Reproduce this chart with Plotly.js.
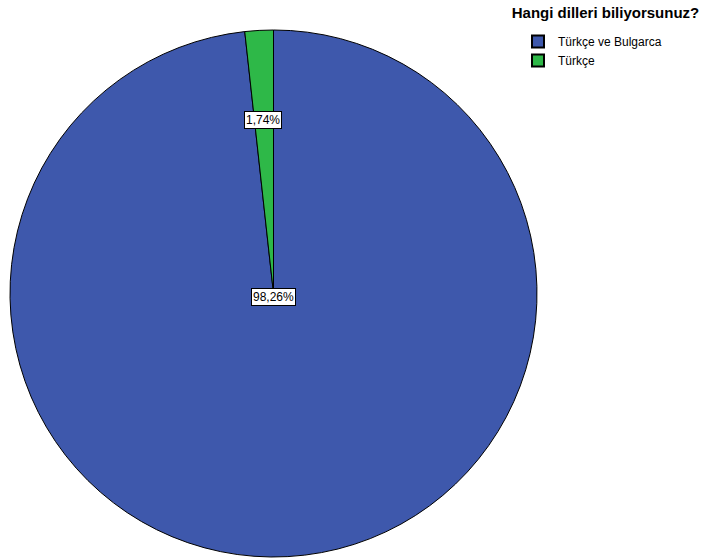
<!DOCTYPE html>
<html>
<head>
<meta charset="utf-8">
<script src="https://cdn.plot.ly/plotly-3.0.1.min.js"></script>
<style>body{margin:0;padding:0;background:#fff;} #chart{width:703px;height:558px;}</style>
</head>
<body>
<div id="chart"></div>
<script>
const categories = ["Türkçe ve Bulgarca", "Türkçe"];
const percents = [98.26, 1.74];
const colors = ["#3e58ac", "#2eb848"];
const chartTitle = "Hangi dilleri biliyorsunuz?";

const fmt = v => v.toFixed(2).replace(".", ",") + "%";

const trace = {
  type: "pie",
  labels: categories,
  values: percents,
  sort: false,
  direction: "clockwise",
  rotation: 0,
  marker: {colors: colors, line: {color: "#000", width: 1}},
  textinfo: "none",
  hoverinfo: "label+percent",
  domain: {x: [10/703, 537/703], y: [1 - 557/558, 1 - 30/558]},
  showlegend: true
};

const labelPos = [[273/703, 1 - 297/558], [263/703, 1 - 111/558]];
const annotations = percents.map((v, i) => ({
  xref: "paper", yref: "paper",
  x: labelPos[i][0], y: labelPos[i][1],
  text: fmt(v), showarrow: false,
  font: {family: "Liberation Sans, Arial, sans-serif", size: 12, color: "#000"},
  bgcolor: "#fff", bordercolor: "#000", borderwidth: 1, borderpad: 1
}));

const layout = {
  width: 703, height: 558,
  margin: {l: 0, r: 0, t: 0, b: 0},
  paper_bgcolor: "#fff", plot_bgcolor: "#fff",
  title: {
    text: "<b>" + chartTitle + "</b>",
    font: {family: "Liberation Sans, Arial, sans-serif", size: 15, color: "#000"},
    x: 605.5/703, xanchor: "center", xref: "paper",
    y: 1 - 13/558, yanchor: "middle", yref: "container"
  },
  legend: {
    x: 518/703, xanchor: "left", y: 1 - 27/558, yanchor: "top",
    font: {family: "Liberation Sans, Arial, sans-serif", size: 12, color: "#000"},
    bgcolor: "rgba(0,0,0,0)", tracegroupgap: 0, itemsizing: "constant"
  },
  annotations: annotations
};

Plotly.newPlot("chart", [trace], layout, {displayModeBar: false, staticPlot: true});
</script>
</body>
</html>
